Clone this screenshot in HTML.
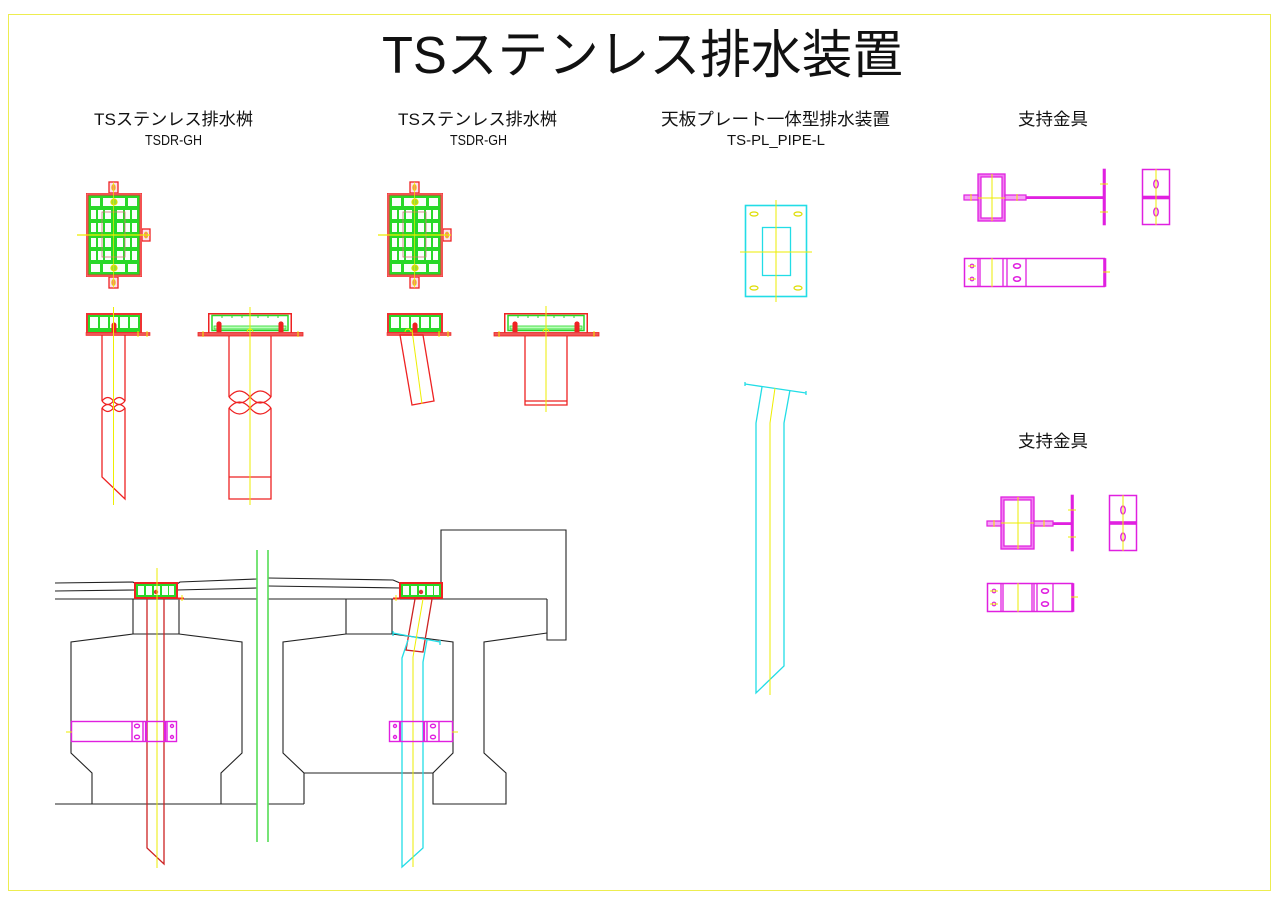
<!DOCTYPE html>
<html><head><meta charset="utf-8"><style>
html,body{margin:0;padding:0;background:#fff;}
svg{display:block;}
</style></head><body>
<svg xmlns="http://www.w3.org/2000/svg" xmlns:xlink="http://www.w3.org/1999/xlink" width="1280" height="905" viewBox="0 0 1280 905" font-family="'Liberation Sans','Noto Sans CJK JP',sans-serif">
<rect x="0" y="0" width="1280" height="905" fill="#fff"/>
<rect x="8.5" y="14.5" width="1262" height="876" fill="none" stroke="#eded50" stroke-width="1"/>

<!-- TEXT -->
<text x="382" y="73" font-size="52" textLength="521" lengthAdjust="spacingAndGlyphs" fill="#111">TSステンレス排水装置</text>
<text x="94" y="125" font-size="17" textLength="159" lengthAdjust="spacingAndGlyphs" fill="#111">TSステンレス排水桝</text>
<text x="145" y="145" font-size="15" textLength="57" lengthAdjust="spacingAndGlyphs" fill="#111">TSDR-GH</text>
<text x="398" y="125" font-size="17" textLength="159" lengthAdjust="spacingAndGlyphs" fill="#111">TSステンレス排水桝</text>
<text x="450" y="145" font-size="15" textLength="57" lengthAdjust="spacingAndGlyphs" fill="#111">TSDR-GH</text>
<text x="661" y="125" font-size="17" textLength="229" lengthAdjust="spacingAndGlyphs" fill="#111">天板プレート一体型排水装置</text>
<text x="727" y="145" font-size="15" textLength="98" lengthAdjust="spacingAndGlyphs" fill="#111">TS-PL_PIPE-L</text>
<text x="1018" y="125" font-size="17" textLength="70" lengthAdjust="spacingAndGlyphs" fill="#111">支持金具</text>
<text x="1018" y="447" font-size="17" textLength="70" lengthAdjust="spacingAndGlyphs" fill="#111">支持金具</text>

<defs>
<g id="plan">
  <rect x="23" y="-11" width="9" height="11" fill="#fde" stroke="#e22" stroke-width="1.3"/>
  <ellipse cx="27.5" cy="-5.5" rx="1.8" ry="3" fill="#f77" stroke="#dd0" stroke-width="0.8"/>
  <rect x="23" y="84" width="9" height="11" fill="#fde" stroke="#e22" stroke-width="1.3"/>
  <ellipse cx="27.5" cy="89.5" rx="1.8" ry="3" fill="#f77" stroke="#dd0" stroke-width="0.8"/>
  <rect x="56" y="36" width="8" height="12" fill="#fde" stroke="#e22" stroke-width="1.3"/>
  <ellipse cx="60" cy="42" rx="1.8" ry="3" fill="#f77" stroke="#dd0" stroke-width="0.8"/>
  <rect x="0" y="0" width="56" height="84" fill="#e33"/>
  <rect x="1" y="1" width="54" height="82" fill="none" stroke="#f99" stroke-width="0.6"/>
  <rect x="2.5" y="2.5" width="51" height="79" fill="#27d827"/>
  <g fill="#fafffa">
    <rect x="5" y="5" width="9" height="8"/><rect x="17" y="5" width="22" height="8"/><rect x="42" y="5" width="9" height="8"/>
    <rect x="5" y="71" width="9" height="8"/><rect x="17" y="71" width="22" height="8"/><rect x="42" y="71" width="9" height="8"/>
    <rect x="5" y="17" width="5" height="9"/><rect x="12" y="17" width="5" height="9"/><rect x="19" y="17" width="6" height="9"/><rect x="31" y="17" width="6" height="9"/><rect x="39" y="17" width="5" height="9"/><rect x="46" y="17" width="5" height="9"/>
    <rect x="5" y="30" width="5" height="9"/><rect x="12" y="30" width="5" height="9"/><rect x="19" y="30" width="6" height="9"/><rect x="31" y="30" width="6" height="9"/><rect x="39" y="30" width="5" height="9"/><rect x="46" y="30" width="5" height="9"/>
    <rect x="5" y="45" width="5" height="9"/><rect x="12" y="45" width="5" height="9"/><rect x="19" y="45" width="6" height="9"/><rect x="31" y="45" width="6" height="9"/><rect x="39" y="45" width="5" height="9"/><rect x="46" y="45" width="5" height="9"/>
    <rect x="5" y="58" width="5" height="9"/><rect x="12" y="58" width="5" height="9"/><rect x="19" y="58" width="6" height="9"/><rect x="31" y="58" width="6" height="9"/><rect x="39" y="58" width="5" height="9"/><rect x="46" y="58" width="5" height="9"/>
  </g>
  <rect x="16" y="19" width="23" height="45" fill="none" stroke="#c77" stroke-width="0.8"/>
  <circle cx="28" cy="9" r="3" fill="#9d3" stroke="#dd0" stroke-width="1.2"/>
  <circle cx="28" cy="75" r="3" fill="#9d3" stroke="#dd0" stroke-width="1.2"/>
  <line x1="27.5" y1="-11" x2="27.5" y2="95" stroke="#ee0" stroke-width="1" opacity="0.7"/>
  <line x1="-9" y1="42" x2="64" y2="42" stroke="#ee0" stroke-width="1.2"/>
</g>
<g id="secA">
  <rect x="0" y="0" width="56" height="22" fill="#e33"/>
  <rect x="2" y="2" width="52" height="17" fill="#27d827"/>
  <g fill="#fafffa">
    <rect x="4" y="4" width="8" height="11"/><rect x="14" y="4" width="8" height="11"/><rect x="24" y="4" width="8" height="11"/><rect x="34" y="4" width="8" height="11"/><rect x="44" y="4" width="8" height="11"/>
  </g>
  <rect x="0" y="19.5" width="64" height="3" fill="#e55" stroke="#e22" stroke-width="0.6"/>
  <rect x="25.5" y="12" width="5" height="7" fill="#e22"/><circle cx="28" cy="12" r="2.5" fill="#e22"/>
  <line x1="61" y1="18" x2="61" y2="24" stroke="#ee0" stroke-width="1"/>
  <line x1="52" y1="18" x2="52" y2="24" stroke="#ee0" stroke-width="1"/>
</g>
<g id="secB">
  <rect x="0.75" y="0.75" width="82.5" height="19.5" fill="#fff" stroke="#e22" stroke-width="1.5"/>
  <rect x="4" y="2.5" width="76" height="15" fill="none" stroke="#27d827" stroke-width="1.5"/>
  <rect x="6" y="13" width="72" height="3" fill="#bfb" stroke="#27d827" stroke-width="0.8"/>
  <g stroke="#27d827" stroke-width="1"><line x1="14" y1="2" x2="14" y2="5"/><line x1="24" y1="2" x2="24" y2="5"/><line x1="34" y1="2" x2="34" y2="5"/><line x1="50" y1="2" x2="50" y2="5"/><line x1="60" y1="2" x2="60" y2="5"/><line x1="70" y1="2" x2="70" y2="5"/></g>
  <rect x="-10" y="19.5" width="105" height="3.5" fill="#e55" stroke="#e22" stroke-width="0.8"/>
  <rect x="8.5" y="11" width="5" height="8" fill="#e22"/><circle cx="11" cy="11" r="2.6" fill="#e22"/>
  <rect x="70.5" y="11" width="5" height="8" fill="#e22"/><circle cx="73" cy="11" r="2.6" fill="#e22"/>
  <path d="M39,19 A3,3 0 0 1 45,19" stroke="#ee0" fill="none" stroke-width="1"/>
  <line x1="-5" y1="18" x2="-5" y2="24" stroke="#ee0" stroke-width="1"/>
  <line x1="90" y1="18" x2="90" y2="24" stroke="#ee0" stroke-width="1"/>
</g>
<g id="deckgrate">
  <rect x="0" y="0" width="44" height="17" fill="#e22"/>
  <rect x="2" y="2" width="40" height="13" fill="#27d827"/>
  <g fill="#fafffa"><rect x="4" y="4" width="6" height="9"/><rect x="12" y="4" width="6" height="9"/><rect x="20" y="4" width="6" height="9"/><rect x="28" y="4" width="6" height="9"/><rect x="35" y="4" width="5" height="9"/></g>
  <circle cx="22" cy="10" r="2.2" fill="#d33"/>
</g>
</defs>

<!-- PLAN VIEWS -->
<use xlink:href="#plan" x="86" y="193"/>
<use xlink:href="#plan" x="387" y="193"/>

<!-- SECTION A (left) -->
<use xlink:href="#secA" x="86" y="313"/>
<g fill="none" stroke="#e22" stroke-width="1.3">
  <line x1="102" y1="335" x2="102" y2="401"/><line x1="125" y1="335" x2="125" y2="401"/>
  <path d="M102,401 Q107.75,394 113.5,401 Q119.25,408 125,401"/>
  <path d="M102,401 Q107.75,408 113.5,401 Q119.25,394 125,401"/>
  <path d="M102,408 Q107.75,401 113.5,408 Q119.25,415 125,408"/>
  <path d="M102,408 Q107.75,415 113.5,408 Q119.25,401 125,408"/>
  <polyline points="102,408 102,477 125,499 125,408"/>
</g>
<line x1="113.5" y1="307" x2="113.5" y2="505" stroke="#ee0" stroke-width="1"/>

<!-- SECTION B (left) -->
<use xlink:href="#secB" x="208" y="313"/>
<g fill="none" stroke="#e22" stroke-width="1.3">
  <line x1="229" y1="336" x2="229" y2="397"/><line x1="271" y1="336" x2="271" y2="397"/>
  <path d="M229,397 Q239.5,385 250,397 Q260.5,409 271,397"/>
  <path d="M229,397 Q239.5,409 250,397 Q260.5,385 271,397"/>
  <path d="M229,408 Q239.5,396 250,408 Q260.5,420 271,408"/>
  <path d="M229,408 Q239.5,420 250,408 Q260.5,396 271,408"/>
  <polyline points="229,408 229,499 271,499 271,408"/>
  <line x1="229" y1="477" x2="271" y2="477"/>
</g>
<line x1="250" y1="307" x2="250" y2="505" stroke="#ee0" stroke-width="1"/>

<!-- SECTION 2a -->
<use xlink:href="#secA" x="387" y="313"/>
<path d="M405,332 A3,3 0 0 1 411,332" stroke="#ee0" fill="none"/>
<polygon points="400,335 423,335 434,401 412,405" fill="none" stroke="#e22" stroke-width="1.3"/>
<line x1="412" y1="330" x2="422" y2="404" stroke="#ee0" stroke-width="1"/>

<!-- SECTION 2b -->
<use xlink:href="#secB" x="504" y="313"/>
<g fill="none" stroke="#e22" stroke-width="1.3">
  <polyline points="525,336 525,405 567,405 567,336"/>
  <line x1="525" y1="401" x2="567" y2="401"/>
</g>
<line x1="546" y1="306" x2="546" y2="412" stroke="#ee0" stroke-width="1"/>

<!-- CYAN PLATE -->
<rect x="745.5" y="205.5" width="61" height="91" fill="none" stroke="#22dde6" stroke-width="1.6"/>
<rect x="762.5" y="227.5" width="28" height="48" fill="none" stroke="#22dde6" stroke-width="1.3"/>
<g fill="none" stroke="#dd0" stroke-width="1.2">
  <ellipse cx="754" cy="214" rx="4" ry="2"/><ellipse cx="798" cy="214" rx="4" ry="2"/>
  <ellipse cx="754" cy="288" rx="4" ry="2"/><ellipse cx="798" cy="288" rx="4" ry="2"/>
</g>
<line x1="776" y1="200" x2="776" y2="302" stroke="#ee0" stroke-width="1"/>
<line x1="740" y1="252" x2="812" y2="252" stroke="#ee0" stroke-width="1"/>

<!-- CYAN PIPE -->
<g fill="none" stroke="#22dde6" stroke-width="1.3">
  <line x1="745" y1="384" x2="806" y2="393"/>
  <line x1="745" y1="382" x2="745" y2="386"/><line x1="806" y1="391" x2="806" y2="395"/>
  <polyline points="762,387 756,423 756,693 784,666 784,423 790,390"/>
</g>
<polyline points="775,388 770,423 770,695" fill="none" stroke="#ee0" stroke-width="1"/>

<!-- TOP RIGHT BRACKETS -->
<g stroke="#e020e0" fill="none">
  <rect x="979.5" y="175.5" width="24" height="44" stroke="#f080f0" stroke-width="3"/>
  <rect x="978" y="174" width="27" height="47" stroke-width="1.3"/>
  <rect x="981" y="177" width="21" height="41" stroke-width="1.2"/>
  <rect x="964" y="195" width="14" height="5" fill="#f6a0f6" stroke-width="1.2"/>
  <rect x="1005" y="195" width="21" height="5" fill="#f6a0f6" stroke-width="1.2"/>
  <rect x="1026" y="196.5" width="77" height="2.2" fill="#e020e0" stroke-width="0.6"/>
  <rect x="1103" y="169" width="2.5" height="56" fill="#e020e0" stroke-width="0.6"/>
  <rect x="1142.5" y="169.5" width="27" height="55" stroke-width="1.5"/>
  <rect x="1142.5" y="196" width="27" height="3" fill="#e020e0" stroke-width="0.6"/>
  <ellipse cx="1156" cy="184" rx="2.2" ry="4" stroke-width="1.4"/>
  <ellipse cx="1156" cy="212" rx="2.2" ry="4" stroke-width="1.4"/>
  <rect x="964.5" y="258.5" width="140" height="28" stroke-width="1.5"/>
  <line x1="978" y1="258" x2="978" y2="287" stroke-width="1.3"/><line x1="980" y1="258" x2="980" y2="287" stroke-width="1.3"/>
  <line x1="1003" y1="258" x2="1003" y2="287" stroke-width="1.3"/><line x1="1007" y1="258" x2="1007" y2="287" stroke-width="1.3"/>
  <line x1="1026" y1="258" x2="1026" y2="287" stroke-width="1.3"/>
  <rect x="1103.5" y="258.5" width="2.5" height="28" fill="#e020e0" stroke-width="0.6"/>
  <circle cx="972" cy="266" r="1.8" stroke-width="1.2"/><circle cx="972" cy="279" r="1.8" stroke-width="1.2"/>
  <ellipse cx="1017" cy="266" rx="3.5" ry="2.2" stroke-width="1.5"/><ellipse cx="1017" cy="279" rx="3.5" ry="2.2" stroke-width="1.5"/>
</g>
<g stroke="#ee0" stroke-width="1" fill="none">
  <line x1="992" y1="174" x2="992" y2="221"/><line x1="978" y1="198" x2="1005" y2="198"/>
  <line x1="971" y1="194" x2="971" y2="201"/><line x1="1017" y1="194" x2="1017" y2="201"/>
  <line x1="1100" y1="184" x2="1108" y2="184"/><line x1="1100" y1="212" x2="1108" y2="212"/>
  <line x1="1156" y1="169" x2="1156" y2="225"/>
  <line x1="992" y1="258" x2="992" y2="287"/>
  <line x1="1103" y1="272" x2="1110" y2="272"/>
  <line x1="968" y1="266" x2="976" y2="266"/><line x1="968" y1="279" x2="976" y2="279"/>
</g>

<!-- BOTTOM RIGHT BRACKETS -->
<g stroke="#e020e0" fill="none">
  <rect x="1002.5" y="498.5" width="30" height="49" stroke="#f080f0" stroke-width="3"/>
  <rect x="1001" y="497" width="33" height="52" stroke-width="1.3"/>
  <rect x="1004" y="500" width="27" height="46" stroke-width="1.2"/>
  <rect x="987" y="521" width="14" height="5" fill="#f6a0f6" stroke-width="1.2"/>
  <rect x="1034" y="521" width="19" height="5" fill="#f6a0f6" stroke-width="1.2"/>
  <rect x="1053" y="522.5" width="18" height="2.2" fill="#e020e0" stroke-width="0.6"/>
  <rect x="1071" y="495" width="2.5" height="56" fill="#e020e0" stroke-width="0.6"/>
  <rect x="1109.5" y="495.5" width="27" height="55" stroke-width="1.5"/>
  <rect x="1109.5" y="521.5" width="27" height="3" fill="#e020e0" stroke-width="0.6"/>
  <ellipse cx="1123" cy="510" rx="2.2" ry="4" stroke-width="1.4"/>
  <ellipse cx="1123" cy="537" rx="2.2" ry="4" stroke-width="1.4"/>
  <rect x="987.5" y="583.5" width="85" height="28" stroke-width="1.5"/>
  <line x1="1001" y1="583" x2="1001" y2="612" stroke-width="1.3"/><line x1="1003" y1="583" x2="1003" y2="612" stroke-width="1.3"/>
  <line x1="1032" y1="583" x2="1032" y2="612" stroke-width="1.3"/><line x1="1034" y1="583" x2="1034" y2="612" stroke-width="1.3"/>
  <line x1="1037" y1="583" x2="1037" y2="612" stroke-width="1.3"/><line x1="1053" y1="583" x2="1053" y2="612" stroke-width="1.3"/>
  <rect x="1071.5" y="583.5" width="2.5" height="28" fill="#e020e0" stroke-width="0.6"/>
  <circle cx="994" cy="591" r="1.8" stroke-width="1.2"/><circle cx="994" cy="604" r="1.8" stroke-width="1.2"/>
  <ellipse cx="1045" cy="591" rx="3.5" ry="2.2" stroke-width="1.5"/><ellipse cx="1045" cy="604" rx="3.5" ry="2.2" stroke-width="1.5"/>
</g>
<g stroke="#ee0" stroke-width="1" fill="none">
  <line x1="1018" y1="497" x2="1018" y2="549"/><line x1="1001" y1="523" x2="1034" y2="523"/>
  <line x1="994" y1="520" x2="994" y2="527"/><line x1="1044" y1="520" x2="1044" y2="527"/>
  <line x1="1068" y1="510" x2="1076" y2="510"/><line x1="1068" y1="537" x2="1076" y2="537"/>
  <line x1="1123" y1="495" x2="1123" y2="551"/>
  <line x1="1018" y1="583" x2="1018" y2="612"/>
  <line x1="1071" y1="597" x2="1078" y2="597"/>
  <line x1="990" y1="591" x2="998" y2="591"/><line x1="990" y1="604" x2="998" y2="604"/>
</g>

<!-- BRIDGE CROSS SECTION -->
<g fill="none" stroke="#222" stroke-width="1.1">
  <polyline points="55,583 133,582 136,584"/>
  <polyline points="177,584 180,582 257,579"/>
  <polyline points="268,578 393,580 400,583"/>
  <line x1="55" y1="591" x2="136" y2="590"/>
  <line x1="177" y1="590" x2="257" y2="588"/>
  <line x1="268" y1="586" x2="400" y2="588"/>
  <line x1="55" y1="599" x2="257" y2="599"/>
  <line x1="268" y1="599" x2="547" y2="599"/>
  <polyline points="133,599 133,634 179,634 179,599"/>
  <polyline points="133,634 71,642 71,753 92,773 92,804"/>
  <polyline points="179,634 242,642 242,753 221,773 221,804"/>
  <line x1="55" y1="804" x2="257" y2="804"/>
  <line x1="268" y1="804" x2="304" y2="804"/>
  <polyline points="346,599 346,634 392,634 392,599"/>
  <polyline points="346,634 283,642 283,753 304,773 304,804"/>
  <line x1="304" y1="773" x2="433" y2="773"/>
  <polyline points="392,634 453,642 453,753 433,773 433,804 506,804 506,773 484,753 484,642 547,633"/>
  <polyline points="547,599 547,640 566,640 566,530 441,530 441,583"/>
</g>
<g stroke="#5d5" stroke-width="1.6">
  <line x1="257" y1="550" x2="257" y2="842"/>
  <line x1="268" y1="550" x2="268" y2="842"/>
</g>

<!-- deck grate 1 -->
<use xlink:href="#deckgrate" x="134" y="582"/>
<line x1="178" y1="598.5" x2="184" y2="598.5" stroke="#e22" stroke-width="2"/>
<line x1="182" y1="595" x2="182" y2="601" stroke="#ee0" stroke-width="1"/>
<polyline points="147,599 147,848 164,864 164,599" fill="none" stroke="#c22" stroke-width="1.3"/>
<line x1="157" y1="568" x2="157" y2="868" stroke="#ee0" stroke-width="1"/>
<g stroke="#e020e0" fill="none" stroke-width="1.4">
  <rect x="71.5" y="721.5" width="105" height="20"/>
  <line x1="132" y1="721" x2="132" y2="742"/><line x1="143" y1="721" x2="143" y2="742"/>
  <line x1="146" y1="721" x2="146" y2="742" stroke-width="2.2"/><line x1="165" y1="721" x2="165" y2="742" stroke-width="2.2"/>
  <line x1="167" y1="721" x2="167" y2="742"/>
  <ellipse cx="137" cy="726" rx="2.5" ry="1.8"/><ellipse cx="137" cy="737" rx="2.5" ry="1.8"/>
  <circle cx="172" cy="726" r="1.5"/><circle cx="172" cy="737" r="1.5"/>
</g>
<line x1="66" y1="732" x2="72" y2="732" stroke="#ee0" stroke-width="1"/>

<!-- deck grate 2 -->
<use xlink:href="#deckgrate" x="399" y="582"/>
<line x1="393" y1="598.5" x2="400" y2="598.5" stroke="#e22" stroke-width="2"/>
<line x1="396" y1="595" x2="396" y2="601" stroke="#ee0" stroke-width="1"/>
<polygon points="415,599 432,599 423,652 406,650" fill="none" stroke="#c22" stroke-width="1.3"/>
<g fill="none" stroke="#22dde6" stroke-width="1.3">
  <line x1="393" y1="633" x2="440" y2="642"/>
  <line x1="393" y1="631" x2="393" y2="636"/><line x1="440" y1="640" x2="440" y2="645"/>
  <polyline points="408,640 402,658 402,867 423,848 423,662 427,640"/>
</g>
<polyline points="423,599 413,657 413,867" fill="none" stroke="#ee0" stroke-width="1"/>
<g stroke="#e020e0" fill="none" stroke-width="1.4">
  <rect x="389.5" y="721.5" width="63" height="20"/>
  <line x1="400" y1="721" x2="400" y2="742" stroke-width="2.2"/><line x1="424" y1="721" x2="424" y2="742" stroke-width="2.2"/>
  <line x1="427" y1="721" x2="427" y2="742"/><line x1="439" y1="721" x2="439" y2="742"/>
  <circle cx="395" cy="726" r="1.5"/><circle cx="395" cy="737" r="1.5"/>
  <ellipse cx="433" cy="726" rx="2.5" ry="1.8"/><ellipse cx="433" cy="737" rx="2.5" ry="1.8"/>
</g>
<line x1="452" y1="732" x2="458" y2="732" stroke="#ee0" stroke-width="1"/>
</svg>
</body></html>
